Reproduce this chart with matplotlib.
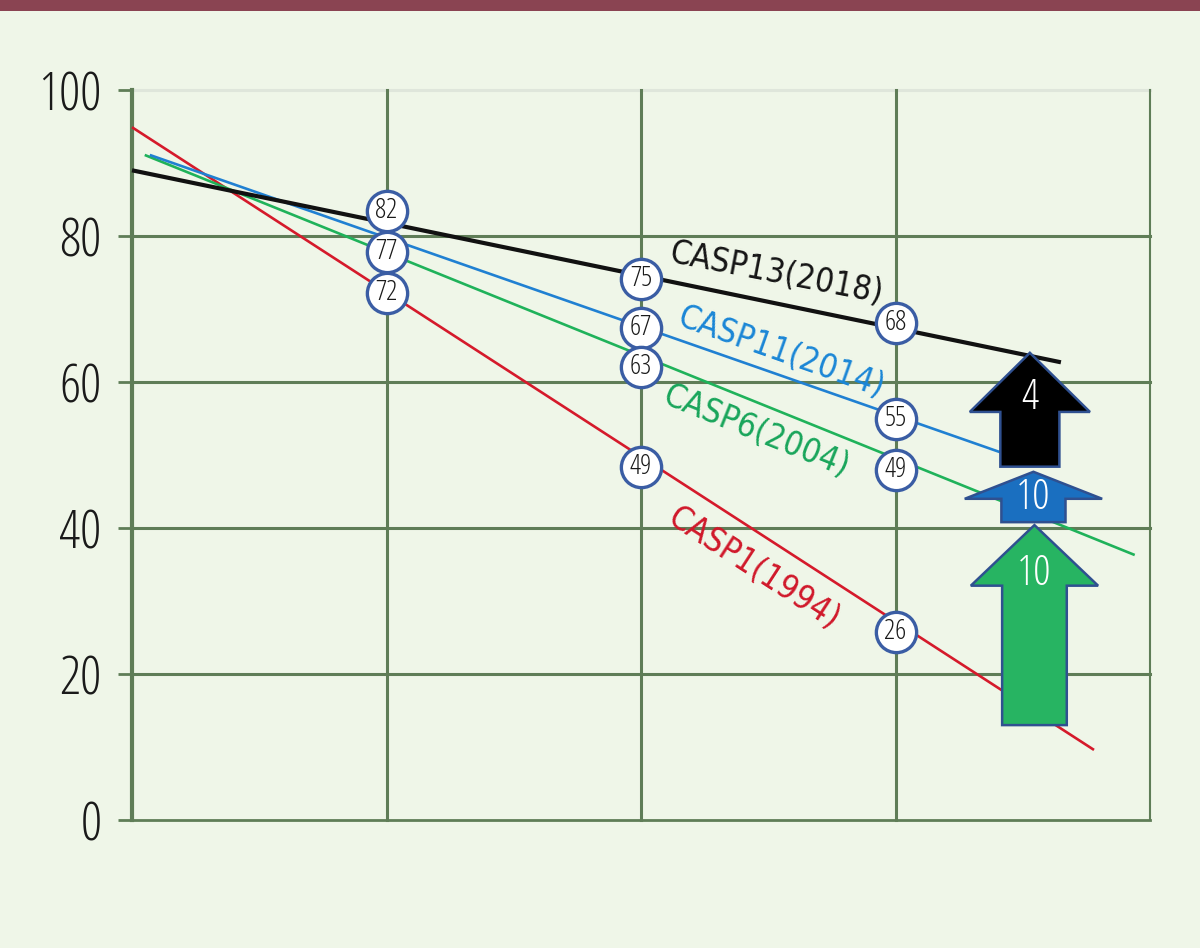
import matplotlib
matplotlib.use("Agg")
import matplotlib.pyplot as plt
from matplotlib.patches import Polygon, Rectangle

# ---------------- data ----------------
y_ticks = [0, 20, 40, 60, 80, 100]
x_grid = [0, 1, 2, 3, 4]

series_names = ["CASP1(1994)", "CASP6(2004)", "CASP11(2014)", "CASP13(2018)"]
series_colors = ["#d51a2b", "#1fb25a", "#2080d2", "#111111"]
label_colors = ["#d0182a", "#18a55a", "#1a86d6", "#151515"]
# trend line end points (x, y)
line_x0 = [0.0, 0.05, 0.07, 0.0]
line_y0 = [94.9, 91.1, 91.1, 89.0]
line_x1 = [3.78, 3.94, 3.41, 3.65]
line_y1 = [9.6, 36.3, 50.4, 62.7]
line_widths = [1.9, 1.9, 1.9, 3.0]

# circled values
point_x = [1, 1, 1, 2, 2, 2, 2, 3, 3, 3, 3]
point_y = [83.4, 77.8, 72.2, 74.1, 67.4, 62.1, 48.4, 68.1, 54.9, 47.9, 25.8]
point_val = ["82", "77", "72", "75", "67", "63", "49", "68", "55", "49", "26"]

# series label placement
label_x = [2.44, 2.45, 2.55, 2.53]
label_y = [34.5, 53.2, 64.1, 74.9]
label_rot = [-33, -22, -19.5, -11]

# improvement arrows (green, blue, black)
arrow_vals = ["10", "10", "4"]
arrow_colors = ["#27b462", "#1a6fc0", "#000000"]
arrow_cx = [3.546, 3.542, 3.528]
arrow_bottom = [13.0, 40.8, 48.4]
arrow_headbase = [32.1, 44.0, 55.9]
arrow_tip = [40.4, 47.7, 64.0]
arrow_shaft_hw = [0.127, 0.126, 0.116]
arrow_head_hw = [0.25, 0.27, 0.236]
arrow_label_y = [33.8, 44.2, 57.9]

# ---------------- style ----------------
NARROW = dict(family=["Open Sans", "DejaVu Sans"], stretch="condensed", weight="light")
COND = dict(family=["DejaVu Sans"], stretch="condensed")

BG = "#eff6e8"
GRID = "#5f7d57"
W, H, DPI = 1200, 948, 100

fig = plt.figure(figsize=(W / DPI, H / DPI), dpi=DPI, facecolor=BG)
ax = fig.add_axes([132 / W, 128 / H, (1150 - 132) / W, (820 - 90) / H])
ax.set_facecolor(BG)
ax.set_xlim(0, 4)
ax.set_ylim(0, 100)
for s in ax.spines.values():
    s.set_visible(False)

fig.patches.append(Rectangle((0, 1 - 11 / H), 1, 11 / H, transform=fig.transFigure,
                             facecolor="#8a4452", edgecolor="none"))

# grid
for yv in y_ticks:
    if yv == 100:
        ax.axhline(yv, color="#dfe6db", lw=2.2, zorder=1, clip_on=False)
    else:
        ax.axhline(yv, color=GRID, lw=2.0 if yv == 0 else 2.2, zorder=1, clip_on=False)
for xv in x_grid:
    lw = 3.0 if xv == 0 else (1.5 if xv == 4 else 2.2)
    ax.axvline(xv, color=GRID, lw=lw, zorder=1, clip_on=False)

ax.set_yticks(y_ticks)
ax.set_yticklabels([str(v) for v in y_ticks], fontsize=38, color="#1a1a1a", **NARROW)
ax.set_xticks([])
ax.tick_params(axis="y", length=10, width=2, color=GRID, pad=12)

# trend lines
for i in range(len(series_names)):
    ax.plot([line_x0[i], line_x1[i]], [line_y0[i], line_y1[i]],
            color=series_colors[i], lw=line_widths[i], zorder=3,
            solid_capstyle="butt", clip_on=False)
    ax.text(label_x[i], label_y[i], series_names[i], color=label_colors[i],
            fontsize=24, rotation=label_rot[i], rotation_mode="anchor",
            ha="center", va="center", zorder=4, **COND)

# circled values
ax.plot(point_x, point_y, "o", ms=29, mfc="white", mec="#3a5da4", mew=2.4,
        zorder=5, clip_on=False)
for x, y, v in zip(point_x, point_y, point_val):
    ax.text(x, y, v, ha="center", va="center", fontsize=20, color="#1a1a1a",
            zorder=6, **NARROW)

# arrows
for i in range(len(arrow_vals)):
    cx = arrow_cx[i]
    sw, hw = arrow_shaft_hw[i], arrow_head_hw[i]
    pts = [(cx - sw, arrow_bottom[i]), (cx + sw, arrow_bottom[i]),
           (cx + sw, arrow_headbase[i]), (cx + hw, arrow_headbase[i]),
           (cx, arrow_tip[i]), (cx - hw, arrow_headbase[i]),
           (cx - sw, arrow_headbase[i])]
    ax.add_patch(Polygon(pts, closed=True, facecolor=arrow_colors[i],
                         edgecolor="#2f5090", lw=1.8, zorder=7, clip_on=False))
    ax.text(cx, arrow_label_y[i], arrow_vals[i], color="white", fontsize=31,
            ha="center", va="center", zorder=8, **NARROW)

fig.savefig("out.png", dpi=DPI, facecolor=BG)
